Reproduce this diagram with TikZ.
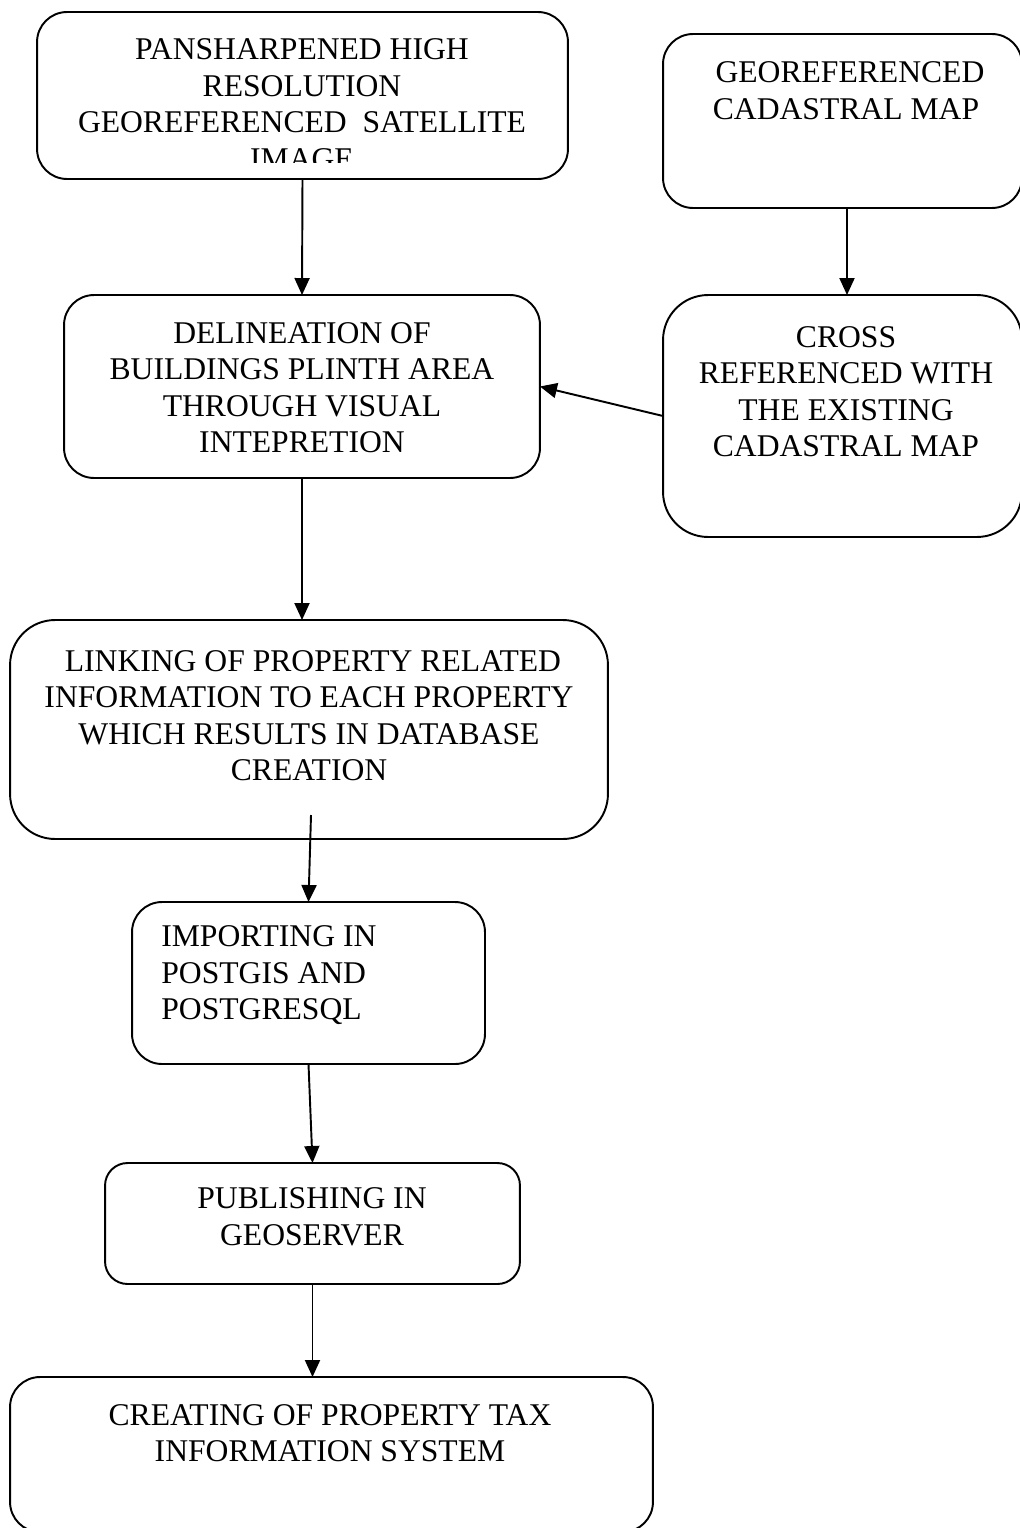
\documentclass[tikz,border=0pt]{standalone}
\usepackage{fontspec}
\setmainfont{Liberation Serif}
\usetikzlibrary{arrows.meta, positioning}

\tikzset{
    flowbox/.style={draw, rounded corners=0.6cm, line width=1.1pt, inner sep=0pt, outer sep=0pt},
    boxtext/.style={align=center, inner sep=0pt, font=\fontsize{18}{20.8}\selectfont},
    flowarrow/.style={line width=1.1pt, -{Triangle[length=0.34cm, width=0.3cm]}}
}

\begin{document}
\begin{tikzpicture}[x=0.02cm, y=-0.02cm]

\useasboundingbox (0,0) rectangle (1019,1528);

% boxes
\node[flowbox, minimum width=7.18cm, minimum height=3.48cm] (cad) at (842.5,121) {};
\node[flowbox, minimum width=10.62cm, minimum height=3.34cm] (sat) at (302.5,95.5) {};
\node[flowbox, minimum width=9.52cm, minimum height=3.66cm] (del) at (302,386.5) {};
\node[flowbox, rounded corners=0.9cm, minimum width=7.18cm, minimum height=4.84cm] (cross) at (842.5,416) {};
\node[flowbox, rounded corners=0.9cm, minimum width=11.96cm, minimum height=4.38cm] (link) at (309,729.5) {};
\node[flowbox, minimum width=7.06cm, minimum height=3.24cm] (imp) at (308.5,983) {};
\node[flowbox, rounded corners=0.45cm, minimum width=8.3cm, minimum height=2.42cm] (pub) at (312.5,1223.5) {};
\node[flowbox, minimum width=12.86cm, minimum height=3.1cm] (tax) at (331.5,1454.5) {};

% texts
\node[boxtext] (sattext) at (302,104) {PANSHARPENED HIGH\\RESOLUTION\\GEOREFERENCED~~SATELLITE\\IMAGE};
\fill[white] (240,163) rectangle (370,177.5);
\node[boxtext] (cadtext) at (846,90.5) {\hspace*{0.25em}GEOREFERENCED\\CADASTRAL MAP};
\node[boxtext] (deltext) at (302,387.5) {DELINEATION OF\\BUILDINGS PLINTH AREA\\THROUGH VISUAL\\INTEPRETION};
\node[boxtext] (crosstext) at (846,391.5) {CROSS\\REFERENCED WITH\\THE EXISTING\\CADASTRAL MAP};
\node[boxtext] (linktext) at (309,715.5) {\hspace*{0.25em}LINKING OF PROPERTY RELATED\\INFORMATION TO EACH PROPERTY\\WHICH RESULTS IN DATABASE\\CREATION};
\node[boxtext, align=left, anchor=west] (imptext) at (161,975.5) {IMPORTING IN\\POSTGIS AND\\POSTGRESQL};
\node[boxtext] (pubtext) at (312,1216.5) {PUBLISHING IN\\GEOSERVER};
\node[boxtext] (taxtext) at (330,1433) {CREATING OF PROPERTY TAX\\INFORMATION SYSTEM};

% arrows
\coordinate (linkout) at (311,815);
\draw[flowarrow] (sat.south) -- (del.north);
\draw[flowarrow] ([xshift=0.09cm]cad.south) -- ([xshift=0.09cm]cross.north);
\draw[flowarrow] (cross.west) -- (del.east);
\draw[flowarrow] (del.south) -- (del.south |- link.north);
\draw[flowarrow] (linkout) -- (imp.north);
\draw[flowarrow] (imp.south) -- (pub.north);
\draw[flowarrow] (pub.south) -- (pub.south |- tax.north);

\end{tikzpicture}
\end{document}
